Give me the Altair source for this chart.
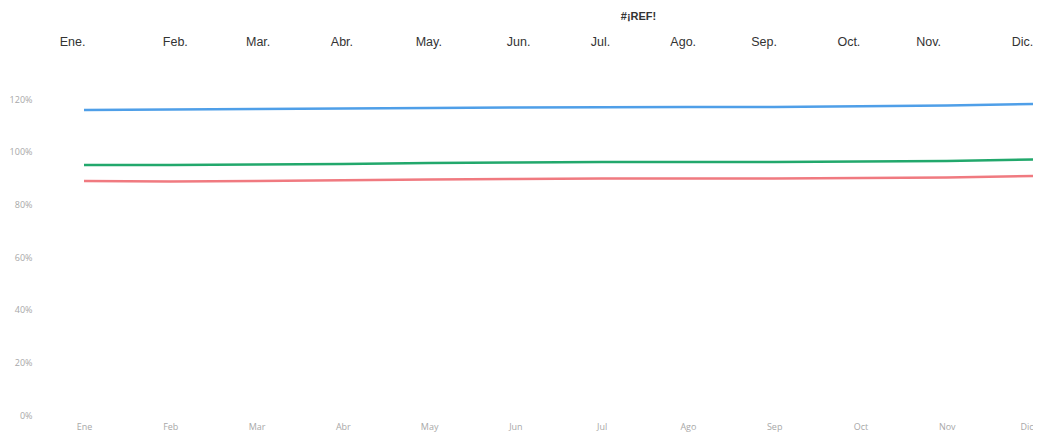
import altair as alt
import pandas as pd

months = ["Ene", "Feb", "Mar", "Abr", "May", "Jun", "Jul", "Ago", "Sep", "Oct", "Nov", "Dic"]
series_names = ["Serie A", "Serie B", "Serie C"]
serie_a = [1.158, 1.160, 1.162, 1.164, 1.166, 1.168, 1.169, 1.170, 1.170, 1.172, 1.175, 1.181]
serie_b = [0.949, 0.949, 0.951, 0.953, 0.957, 0.959, 0.961, 0.961, 0.961, 0.963, 0.965, 0.970]
serie_c = [0.889, 0.887, 0.889, 0.891, 0.894, 0.896, 0.898, 0.898, 0.898, 0.900, 0.902, 0.908]
colors = ["#4f9fe8", "#22a86c", "#f07a80"]
title_text = "#¡REF!"

rows = []
for name, vals in zip(series_names, [serie_a, serie_b, serie_c]):
    for m, v in zip(months, vals):
        rows.append({"mes": m, "serie": name, "valor": v})
df = pd.DataFrame(rows)
df_top = pd.DataFrame({"mes": months})

# small nudges of the header labels (layout only)
top_nudge = {"Feb": 16, "Mar": 12, "Abr": 9, "May": 9, "Jun": 12, "Jul": 7,
             "Ago": 3, "Sep": -3, "Oct": -5, "Nov": -12, "Dic": -5}
offset_cond = {
    "condition": [{"test": f"datum.value == '{k}'", "value": v} for k, v in top_nudge.items()],
    "value": 0,
}
bottom_align = {
    "condition": {"test": "datum.value == 'Dic'", "value": "right"},
    "value": "center",
}

lines = alt.Chart(df).mark_line(strokeWidth=2.5).encode(
    x=alt.X("mes:N", sort=months,
            scale=alt.Scale(type="point", padding=0),
            axis=alt.Axis(orient="bottom", title=None, domain=False, ticks=False,
                          labelAngle=0, labelColor="#a8a8a8", labelFontSize=9,
                          labelFont="Open Sans", labelPadding=7,
                          labelAlign=bottom_align)),
    y=alt.Y("valor:Q",
            scale=alt.Scale(domain=[0, 1.2], nice=False),
            axis=alt.Axis(format=".0%", values=[0, 0.2, 0.4, 0.6, 0.8, 1.0, 1.2],
                          title=None, domain=False, ticks=False, grid=False,
                          labelColor="#a8a8a8", labelFontSize=9, labelFont="Open Sans",
                          labelPadding=52)),
    color=alt.Color("serie:N", scale=alt.Scale(domain=series_names, range=colors), legend=None),
)

header = alt.Chart(df_top).mark_point(opacity=0).encode(
    x=alt.X("mes:N", sort=months,
            scale=alt.Scale(type="point", range=[-12, 943], padding=0),
            axis=alt.Axis(orient="top", title=None, domain=False, ticks=False,
                          labelAngle=0, labelColor="#333333", labelFontSize=12.5,
                          labelFont="Liberation Sans", labelPadding=51,
                          labelExpr="datum.value + '.'", labelOffset=offset_cond)),
    y=alt.value(0),
)

chart = alt.layer(lines, header).resolve_scale(x="independent").properties(
    width=949,
    height=316,
    autosize=alt.AutoSizeParams(type="none"),
    padding={"left": 76, "top": 91, "right": 0, "bottom": 17},
    title=alt.TitleParams(title_text, anchor="middle", dx=80, offset=13,
                          font="Liberation Sans", fontSize=11, fontWeight="bold",
                          color="#333333"),
).configure(background="white").configure_view(stroke=None, strokeWidth=0)

chart.save("out.html", embed_options={"renderer": "svg", "actions": False})
